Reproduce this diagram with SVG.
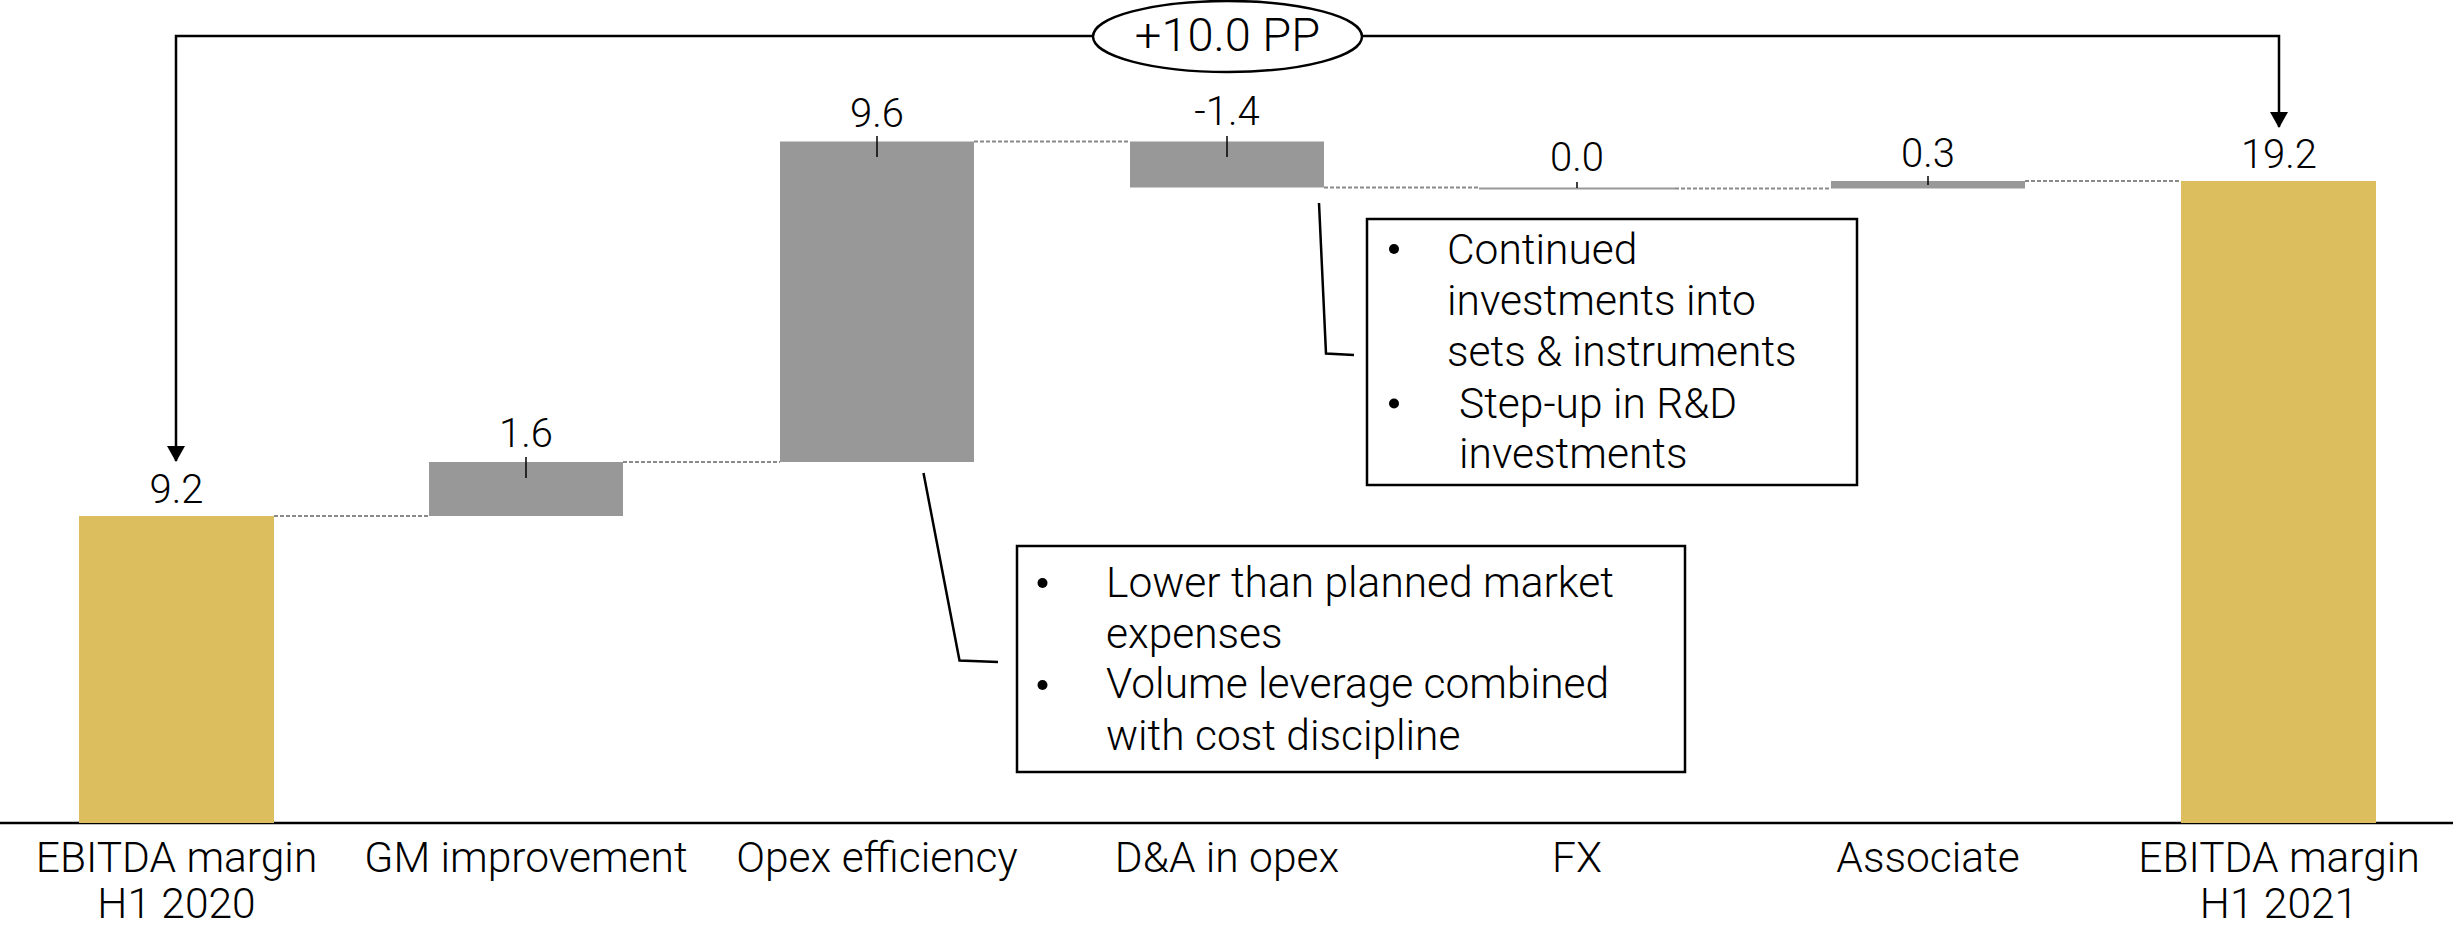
<svg xmlns="http://www.w3.org/2000/svg" width="2453" height="926" viewBox="0 0 2453 926">
  <style>
    text { font-family: Roboto, "Liberation Sans", sans-serif; font-weight: 300; fill: #000; }
    .val { font-size: 40px; text-anchor: middle; }
    .cat { font-size: 42.5px; text-anchor: middle; }
    .note { font-size: 42.5px; }
    .total { fill: #DDBE5E; }
    .delta { fill: #989898; }
    .dash { stroke: #8A8A8A; stroke-width: 2; stroke-dasharray: 4 2; fill: none; }
    .tick { stroke: #000; stroke-width: 1.5; }
    .box { fill: #fff; stroke: #000; stroke-width: 2.5; }
    .lead { fill: none; stroke: #000; stroke-width: 2.5; }
    .bracket { fill: none; stroke: #000; stroke-width: 2.5; }
  </style>
  <defs>
    <marker id="arrow" viewBox="0 0 16 18" refX="15" refY="9" markerWidth="16" markerHeight="18" markerUnits="userSpaceOnUse" orient="auto-start-reverse">
      <path d="M0,0 L16,9 L0,18 Z" fill="#000"/>
    </marker>
  </defs>

  <rect width="2453" height="926" fill="#fff"/>

  <!-- step connectors between bars -->
  <g id="connectors">
    <line class="dash" x1="274" y1="516" x2="429" y2="516"/>
    <line class="dash" x1="623" y1="462" x2="780" y2="462"/>
    <line class="dash" x1="974" y1="141.5" x2="1130" y2="141.5"/>
    <line class="dash" x1="1324" y1="187.5" x2="1479" y2="187.5"/>
    <line class="dash" x1="1675" y1="188.5" x2="1831" y2="188.5"/>
    <line class="dash" x1="2025" y1="181" x2="2181" y2="181"/>
    <!-- overall change bracket -->
    <path class="bracket" d="M176,461 V36 H1093" marker-start="url(#arrow)"/>
    <path class="bracket" d="M1362,36 H2279 V127" marker-end="url(#arrow)"/>
    <!-- note leader lines -->
    <polyline class="lead" points="923.5,473 959.5,660.5 998,662"/>
    <polyline class="lead" points="1319,203 1326,353.5 1354,355"/>
  </g>

  <!-- axis -->
  <line x1="0" y1="823" x2="2453" y2="823" stroke="#000" stroke-width="2.5"/>

  <g id="total-pp">
    <ellipse cx="1227.5" cy="36.5" rx="134.5" ry="35.5" fill="#fff" stroke="#000" stroke-width="2.5"/>
    <text x="1227.5" y="51" font-size="47" text-anchor="middle">+10.0 PP</text>
  </g>

  <g id="ebitda-h1-2020">
    <rect class="total" x="79" y="516" width="195" height="307"/>
    <text class="val" x="176.5" y="503">9.2</text>
    <text class="cat" x="176.5" y="872">EBITDA margin</text>
    <text class="cat" x="176.5" y="918">H1 2020</text>
  </g>

  <g id="gm-improvement">
    <rect class="delta" x="429" y="462" width="194" height="54"/>
    <line class="tick" x1="526" y1="457" x2="526" y2="478"/>
    <text class="val" x="526" y="447">1.6</text>
    <text class="cat" x="526" y="872">GM improvement</text>
  </g>

  <g id="opex-efficiency">
    <rect class="delta" x="780" y="141.5" width="194" height="320.5"/>
    <line class="tick" x1="877" y1="136" x2="877" y2="157"/>
    <text class="val" x="877" y="127">9.6</text>
    <text class="cat" x="877" y="872">Opex efficiency</text>
  </g>

  <g id="da-in-opex">
    <rect class="delta" x="1130" y="141.5" width="194" height="46"/>
    <line class="tick" x1="1227" y1="136" x2="1227" y2="157"/>
    <text class="val" x="1227" y="125">-1.4</text>
    <text class="cat" x="1227" y="872">D&amp;A in opex</text>
  </g>

  <g id="fx">
    <rect class="delta" x="1479" y="187.5" width="196" height="2"/>
    <line class="tick" x1="1577" y1="182" x2="1577" y2="188"/>
    <text class="val" x="1577" y="171">0.0</text>
    <text class="cat" x="1577" y="872">FX</text>
  </g>

  <g id="associate">
    <rect class="delta" x="1831" y="181" width="194" height="7.5"/>
    <line class="tick" x1="1928" y1="176" x2="1928" y2="185"/>
    <text class="val" x="1928" y="167">0.3</text>
    <text class="cat" x="1928" y="872">Associate</text>
  </g>

  <g id="ebitda-h1-2021">
    <rect class="total" x="2181" y="181" width="195" height="642"/>
    <text class="val" x="2279" y="168">19.2</text>
    <text class="cat" x="2279" y="872">EBITDA margin</text>
    <text class="cat" x="2279" y="918">H1 2021</text>
  </g>

  <g id="note-opex">
    <rect class="box" x="1017" y="546" width="668" height="226"/>
    <circle cx="1042.5" cy="583" r="5"/>
    <circle cx="1042.5" cy="685" r="5"/>
    <text class="note" x="1106" y="597">Lower than planned market</text>
    <text class="note" x="1106" y="648">expenses</text>
    <text class="note" x="1106" y="698">Volume leverage combined</text>
    <text class="note" x="1106" y="750">with cost discipline</text>
  </g>

  <g id="note-da">
    <rect class="box" x="1367" y="219" width="490" height="266"/>
    <circle cx="1394" cy="249" r="5"/>
    <circle cx="1394" cy="403.5" r="5"/>
    <text class="note" x="1447" y="264">Continued</text>
    <text class="note" x="1447" y="315">investments into</text>
    <text class="note" x="1447" y="366">sets &amp; instruments</text>
    <text class="note" x="1459" y="418">Step-up in R&amp;D</text>
    <text class="note" x="1459" y="468">investments</text>
  </g>
</svg>
